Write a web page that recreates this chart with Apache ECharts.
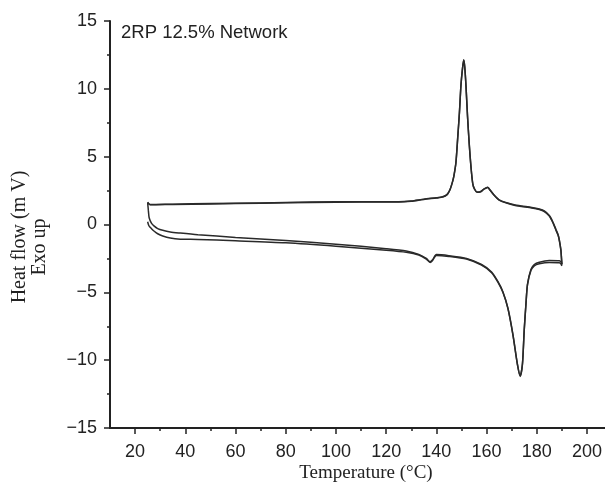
<!DOCTYPE html>
<html>
<head>
<meta charset="utf-8">
<script src="https://cdn.jsdelivr.net/npm/echarts@6/dist/echarts.min.js"></script>
<style>
  html, body { margin: 0; padding: 0; background: #fff; }
  #dsc { width: 605px; height: 484px; }
</style>
</head>
<body>
<div id="dsc"></div>
<script>
// cooling scan (upper trace, exo peak), read from 190 down to 25 °C
const coolTemp = [190, 189.8, 189.6, 189, 188.5, 187.6, 186.5, 185, 183, 181, 178, 174, 171, 168, 165, 163, 161.5, 160.4, 159, 157.5, 156.2, 155.2, 154.5, 153.8, 153.1, 152.4, 151.8, 151.3, 150.9, 150.4, 149.8, 149.2, 148.5, 147.8, 147, 146.5, 145.5, 144.5, 143.5, 142, 140, 135, 130, 125, 110, 90, 70, 50, 35, 26, 25];
const coolRun1 = [-2.95, -2.4, -1.9, -1.2, -0.8, -0.4, 0.1, 0.62, 0.95, 1.1, 1.22, 1.33, 1.42, 1.58, 1.8, 2.15, 2.5, 2.72, 2.6, 2.4, 2.38, 2.6, 3.0, 4.2, 5.9, 8.0, 10.2, 11.6, 12.15, 11.5, 10.3, 8.3, 6.4, 4.6, 3.6, 3.2, 2.6, 2.25, 2.1, 2.0, 1.95, 1.85, 1.72, 1.66, 1.66, 1.63, 1.57, 1.52, 1.48, 1.45, 1.65];
const coolRun2 = [-2.9, -2.35, -1.85, -1.15, -0.75, -0.35, 0.15, 0.66, 1.0, 1.14, 1.26, 1.36, 1.45, 1.6, 1.82, 2.17, 2.52, 2.74, 2.62, 2.42, 2.4, 2.62, 3.02, 4.25, 5.95, 8.05, 10.25, 11.65, 12.1, 11.45, 10.25, 8.25, 6.35, 4.55, 3.58, 3.18, 2.6, 2.27, 2.12, 2.02, 1.97, 1.87, 1.74, 1.68, 1.68, 1.65, 1.59, 1.54, 1.5, 1.47, 1.6];

// heating scans (lower traces, endotherms)
const heatTemp = [25, 25.3, 25.6, 26.5, 27.5, 29, 31, 34, 38, 45, 60, 80, 100, 120, 128, 133, 136, 137.5, 138.5, 140, 145, 152, 158, 162, 164.5, 166.5, 168.5, 170.5, 172.3, 173.4, 174.3, 175, 175.7, 176.3, 177.7, 179, 181, 185, 189, 189.6, 190];
const heatRun1 = [1.6, 1.0, 0.5, 0.1, -0.1, -0.3, -0.43, -0.55, -0.63, -0.75, -0.95, -1.18, -1.45, -1.78, -1.95, -2.2, -2.5, -2.75, -2.6, -2.22, -2.3, -2.5, -2.95, -3.5, -4.2, -4.95, -6.15, -8.1, -10.3, -11.2, -10.3, -7.8, -5.85, -4.4, -3.3, -2.95, -2.78, -2.66, -2.68, -2.75, -2.95];
const heatRun2 = [0.2, 0.0, -0.12, -0.3, -0.48, -0.68, -0.85, -1.0, -1.08, -1.1, -1.2, -1.35, -1.6, -1.9, -2.05, -2.25, -2.55, -2.8, -2.65, -2.28, -2.35, -2.55, -3.0, -3.55, -4.25, -5.0, -6.2, -8.15, -10.35, -11.15, -10.25, -7.75, -5.8, -4.45, -3.38, -3.05, -2.9, -2.8, -2.82, -2.9, -3.05];

const xMajor = [20, 40, 60, 80, 100, 120, 140, 160, 180, 200];
const xMinor = [30, 50, 70, 90, 110, 130, 150, 170, 190];

const pairs = (xs, ys) => xs.map((x, i) => [x, ys[i]]);

const chart = echarts.init(document.getElementById('dsc'));
const ink = '#222';
const trace = '#2a2a2a';

const lineSeries = (data) => ({
    type: 'line',
    data: data,
    showSymbol: false,
    symbol: 'none',
    smooth: 0.25,
    lineStyle: { color: trace, width: 1.5 },
    xAxisIndex: 0
});

chart.setOption({
    animation: false,
    backgroundColor: '#fff',
    grid: { left: 110, right: 0, top: 21, bottom: 56 },
    xAxis: [
        {
            type: 'value',
            min: 10,
            max: 207,
            axisLine: { onZero: false, lineStyle: { color: ink, width: 2 } },
            axisTick: { customValues: xMajor, length: 6, lineStyle: { color: ink, width: 1.5 } },
            axisLabel: {
                customValues: xMajor,
                margin: 15,
                color: '#222',
                fontFamily: 'Liberation Sans',
                fontSize: 18
            },
            splitLine: { show: false }
        },
        {
            type: 'value',
            min: 10,
            max: 207,
            position: 'bottom',
            axisLine: { show: false, onZero: false },
            axisTick: { customValues: xMinor, length: 3, lineStyle: { color: ink, width: 1.5 } },
            axisLabel: { show: false },
            splitLine: { show: false }
        }
    ],
    yAxis: {
        type: 'value',
        min: -15,
        max: 15,
        interval: 5,
        axisLine: { show: true, onZero: false, lineStyle: { color: ink, width: 2 } },
        axisTick: { show: true, length: 6, lineStyle: { color: ink, width: 1.5 } },
        minorTick: { show: true, splitNumber: 2, length: 3, lineStyle: { color: ink, width: 1.5 } },
        axisLabel: {
            margin: 13,
            color: '#222',
            fontFamily: 'Liberation Sans',
            fontSize: 18,
            formatter: (v) => String(v).replace('-', '\u2212')
        },
        splitLine: { show: false }
    },
    graphic: [
        {
            type: 'text',
            x: 121,
            y: 33,
            style: {
                text: '2RP 12.5% Network',
                fill: '#222',
                font: '18.5px "Liberation Sans"',
                verticalAlign: 'middle'
            }
        },
        {
            type: 'text',
            x: 366,
            y: 473,
            style: {
                text: 'Temperature (°C)',
                fill: '#222',
                font: '19px "Liberation Serif"',
                align: 'center',
                verticalAlign: 'middle'
            }
        },
        {
            type: 'text',
            x: 20,
            y: 237,
            rotation: Math.PI / 2,
            style: {
                text: 'Heat flow (m V)',
                fill: '#222',
                font: '20px "Liberation Serif"',
                align: 'center',
                verticalAlign: 'middle'
            }
        },
        {
            type: 'text',
            x: 40,
            y: 247,
            rotation: Math.PI / 2,
            style: {
                text: 'Exo up',
                fill: '#222',
                font: '20px "Liberation Serif"',
                align: 'center',
                verticalAlign: 'middle'
            }
        }
    ],
    series: [
        lineSeries(pairs(coolTemp, coolRun1)),
        lineSeries(pairs(coolTemp, coolRun2)),
        lineSeries(pairs(heatTemp, heatRun1)),
        lineSeries(pairs(heatTemp, heatRun2))
    ]
});
</script>
</body>
</html>
